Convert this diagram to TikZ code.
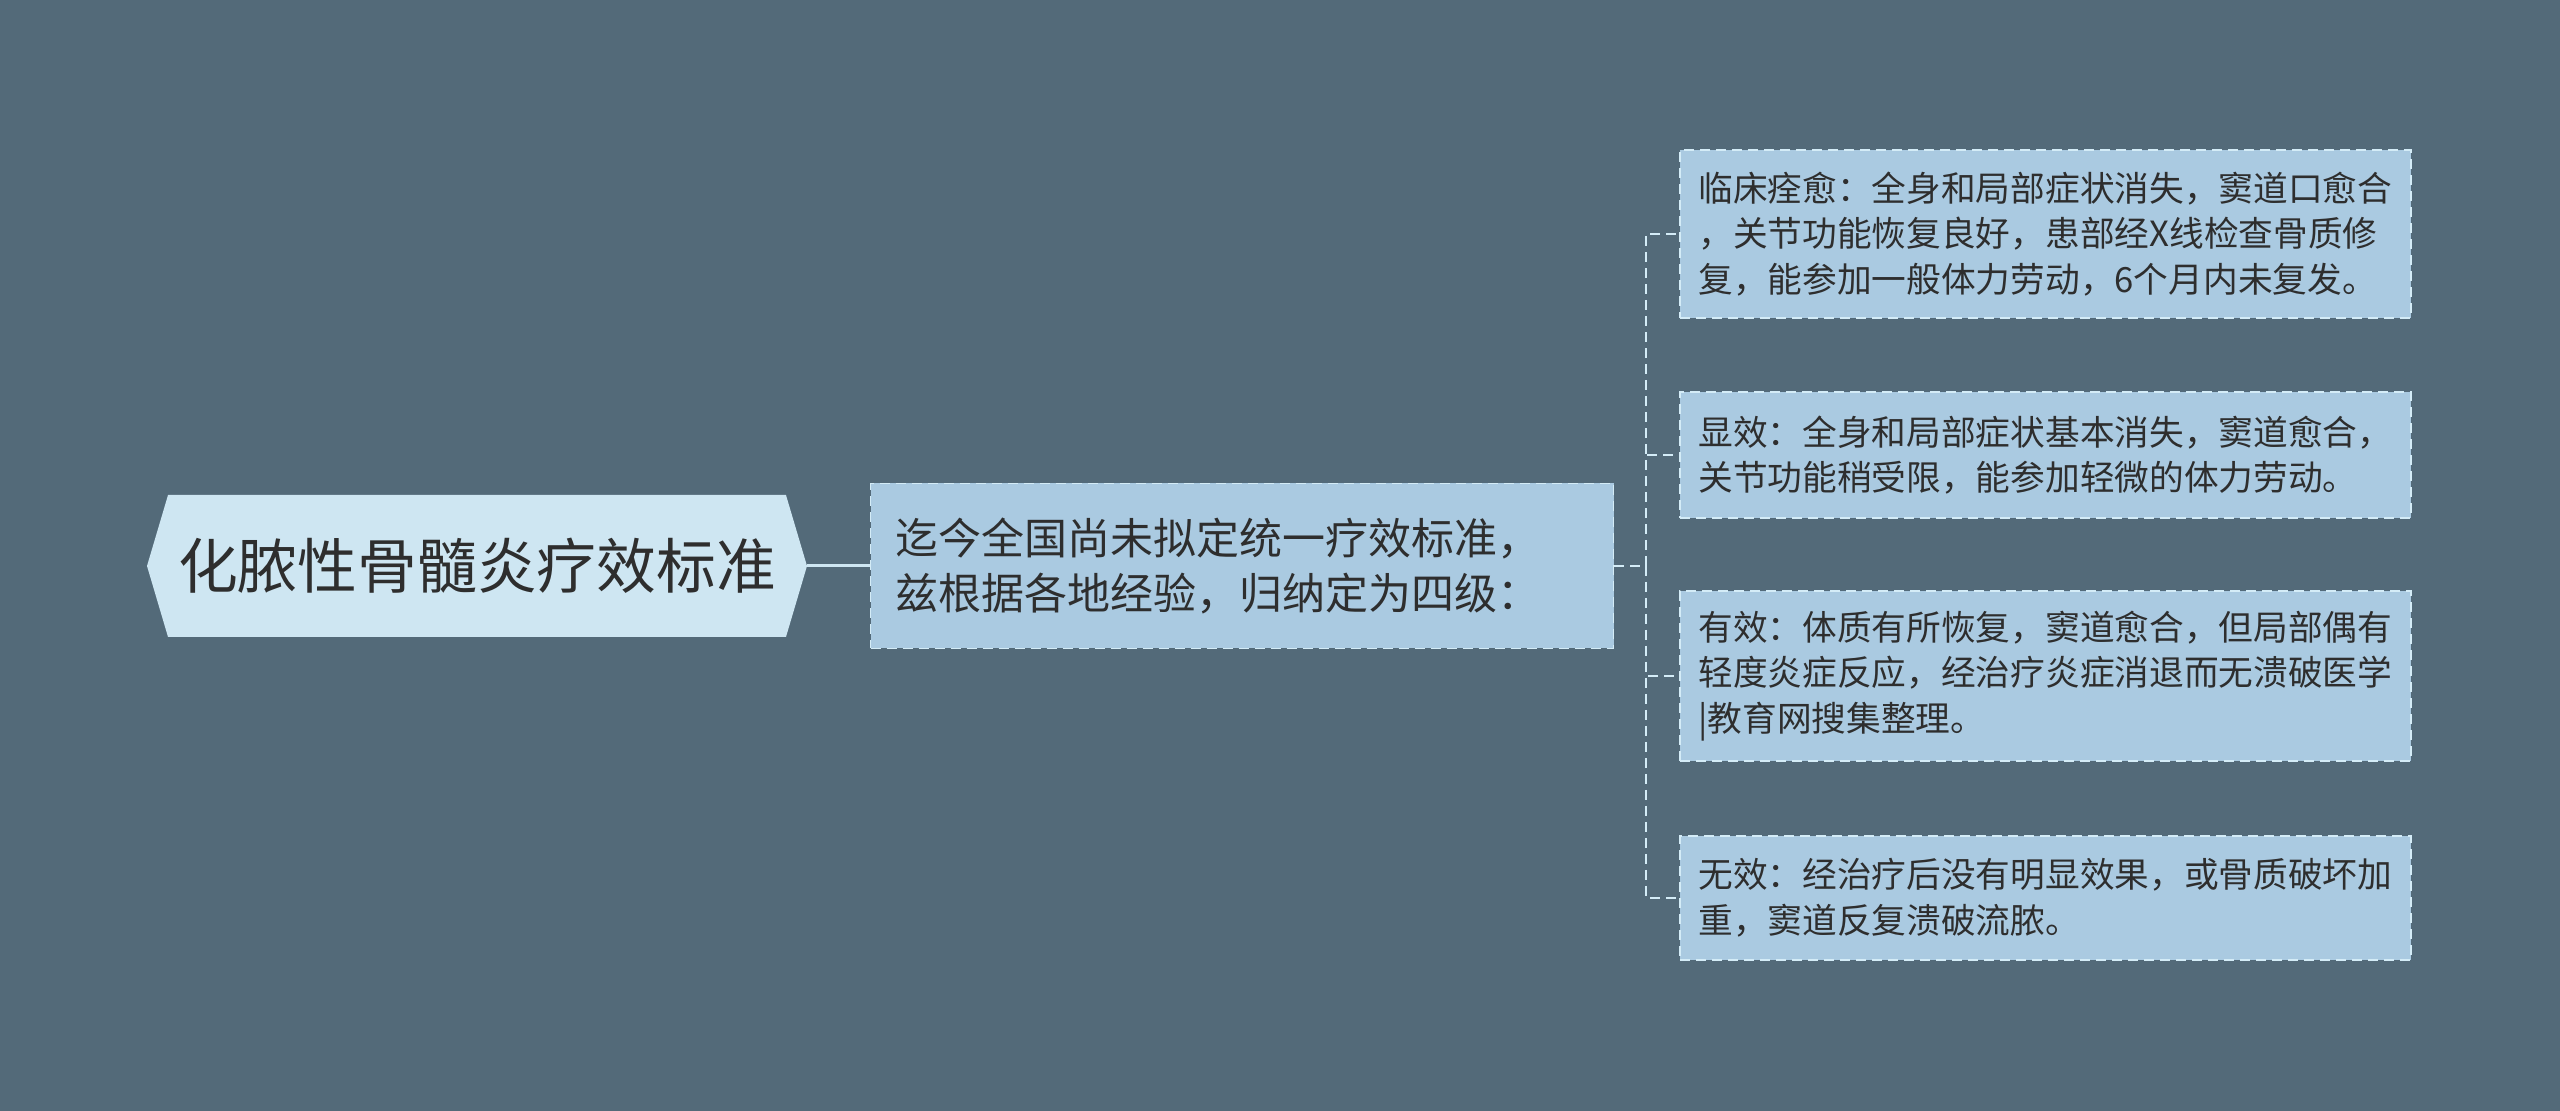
\documentclass[tikz,border=0pt]{standalone}
\usepackage{fontspec}
\setmainfont{Noto Sans CJK SC}
\usetikzlibrary{shapes.symbols}
\definecolor{bgcol}{HTML}{536A79}
\definecolor{rootcol}{HTML}{CEE6F2}
\definecolor{boxcol}{HTML}{AACAE1}
\definecolor{linecol}{HTML}{D4ECF7}
\definecolor{txtcol}{HTML}{2E2E2E}
\tikzset{
  rootbox/.style={shape=signal,signal to=west and east,signal pointer angle=147,
    fill=rootcol,text=txtcol,minimum width=330pt,minimum height=71pt,inner sep=0pt,
    font=\fontsize{29.9pt}{36pt}\selectfont},
  midbox/.style={draw=linecol,dash pattern=on 5pt off 3pt,line width=0.8pt,fill=boxcol,
    text=txtcol,align=left,text width=346.5pt,inner xsep=12.5pt,minimum height=82.5pt,
    font=\fontsize{21.5pt}{27.75pt}\selectfont},
  leafbox/.style={draw=linecol,dash pattern=on 5pt off 3pt,line width=0.8pt,fill=boxcol,
    text=txtcol,align=left,text width=347pt,inner xsep=9.25pt,anchor=west,
    font=\fontsize{17.35pt}{22.85pt}\selectfont},
  branch/.style={draw=linecol,dash pattern=on 5pt off 3pt,line width=0.8pt},
}
\begin{document}
\begin{tikzpicture}[x=0.5pt,y=-0.5pt]
\fill[bgcol] (0,0) rectangle (2560,1111);
\useasboundingbox (0,0) rectangle (2560,1111);

\node[rootbox] (root) at (477,566) {化脓性骨髓炎疗效标准};
\node[midbox] (mid) at (1242,566) {迄今全国尚未拟定统一疗效标准，\\兹根据各地经验，归纳定为四级：};

\node[leafbox,minimum height=84pt] (leaf1) at (1679,234) {临床痊愈：全身和局部症状消失，窦道口愈合\\，关节功能恢复良好，患部经X线检查骨质修\\复，能参加一般体力劳动，6个月内未复发。};
\node[leafbox,minimum height=63pt] (leaf2) at (1679,455) {显效：全身和局部症状基本消失，窦道愈合，\\关节功能稍受限，能参加轻微的体力劳动。};
\node[leafbox,minimum height=85pt] (leaf3) at (1679,676) {有效：体质有所恢复，窦道愈合，但局部偶有\\轻度炎症反应，经治疗炎症消退而无溃破医学\\|教育网搜集整理。};
\node[leafbox,minimum height=62pt] (leaf4) at (1679,898) {无效：经治疗后没有明显效果，或骨质破坏加\\重，窦道反复溃破流脓。};

\coordinate (trunk) at (1646,566);
\draw[rootcol,line width=1.5pt] (root.east) -- (mid.west);
\draw[branch] (mid.east) -- (trunk);
\foreach \n in {1,...,4} {
\draw[branch] (trunk) |- (leaf\n.west);
}
\end{tikzpicture}
\end{document}
